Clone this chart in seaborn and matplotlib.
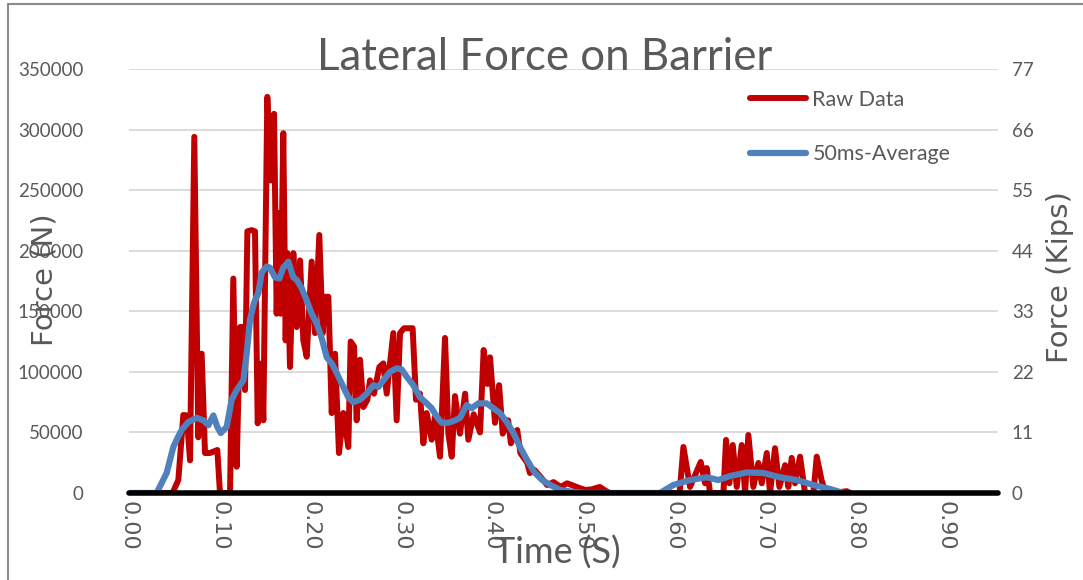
import matplotlib
matplotlib.use("Agg")
import matplotlib.pyplot as plt
import seaborn as sns
import pandas as pd
import numpy as np
from matplotlib.lines import Line2D

# raw lateral force (time in s, force in N)
raw_time = [0.000, 0.048, 0.0544, 0.0599, 0.0636, 0.0673, 0.0720, 0.0764, 0.0801, 0.0838,
            0.0893, 0.0974, 0.1003, 0.1114, 0.1150, 0.1187, 0.1224, 0.1261, 0.1279, 0.1305,
            0.1352, 0.1389, 0.1419, 0.1463, 0.1481, 0.1525, 0.1562, 0.1599, 0.1628, 0.1650,
            0.1672, 0.1701, 0.1727, 0.1746, 0.1775, 0.1812, 0.1849, 0.1886, 0.1922, 0.1959,
            0.2014, 0.2051, 0.2098, 0.2135, 0.2161, 0.2198, 0.2235, 0.2271, 0.2315, 0.2363,
            0.2418, 0.2444, 0.2481, 0.2510, 0.2547, 0.2584, 0.2628, 0.2657, 0.2701, 0.2760,
            0.2804, 0.2841, 0.2914, 0.2951, 0.2988, 0.3032, 0.3080, 0.3127, 0.3164, 0.3208,
            0.3245, 0.3282, 0.3337, 0.3374, 0.3429, 0.3484, 0.3521, 0.3558, 0.3594, 0.3649,
            0.3705, 0.3741, 0.3800, 0.3870, 0.3910, 0.3951, 0.3980, 0.4035, 0.4080, 0.4120,
            0.4180, 0.4210, 0.4280, 0.4315, 0.4390, 0.4420, 0.4470, 0.4540, 0.4610, 0.4680,
            0.4760, 0.4830, 0.4900, 0.4970, 0.5030, 0.5100, 0.5190, 0.5250, 0.5300, 0.6070,
            0.6112, 0.6185, 0.6303, 0.6351, 0.6369, 0.6406, 0.6553, 0.6582, 0.6619, 0.6656,
            0.6700, 0.6755, 0.6792, 0.6828, 0.6883, 0.6938, 0.6976, 0.7031, 0.7067, 0.7122,
            0.7170, 0.7233, 0.7269, 0.7306, 0.7343, 0.7398, 0.7453, 0.7545, 0.7582, 0.7637,
            0.7674, 0.7765, 0.7913, 0.7950]
raw_force = [0, 0, 10700, 64400, 64000, 27000, 294000, 46000, 115000, 33000,
             33000, 35500, 0, 0, 177000, 21700, 137000, 137000, 85000, 216000,
             217000, 216000, 57500, 107000, 60000, 327000, 258000, 313000, 148000, 231000,
             148000, 297000, 126000, 198000, 104000, 198000, 137000, 192000, 126000, 112500,
             191000, 132000, 213000, 132000, 162000, 162000, 66000, 115000, 33000, 66000,
             38000, 125000, 121000, 60000, 110000, 71000, 77000, 93000, 82000, 104000,
             107000, 82000, 132000, 60000, 132000, 136000, 136000, 136000, 77000, 82000,
             41000, 66000, 44000, 63000, 30000, 128000, 49000, 30000, 80000, 49000,
             82000, 44000, 65000, 50000, 118000, 90000, 112000, 58000, 89000, 49000,
             60000, 41000, 52000, 33000, 25000, 16500, 19000, 13000, 6600, 9000,
             5000, 8000, 6000, 4000, 2500, 3000, 5000, 2000, 0, 0,
             38000, 5000, 25600, 8000, 20600, 0, 0, 43800, 8000, 39600,
             5000, 39600, 0, 47900, 5000, 24800, 8000, 33000, 0, 37000,
             5000, 23000, 5000, 29000, 8000, 30000, 0, 0, 30000, 10000,
             2000, 0, 1500, 0]

# 50 ms moving average
avg_time = [0.000, 0.0305, 0.0415, 0.0489, 0.0526, 0.0580, 0.0654, 0.0746, 0.0820, 0.0875,
            0.0930, 0.0974, 0.1011, 0.1077, 0.1132, 0.1187, 0.1261, 0.1297, 0.1334, 0.1378,
            0.1426, 0.1463, 0.1518, 0.1554, 0.1610, 0.1658, 0.1701, 0.1757, 0.1812, 0.1849,
            0.1904, 0.1959, 0.2014, 0.2069, 0.2124, 0.2180, 0.2235, 0.2290, 0.2363, 0.2418,
            0.2473, 0.2547, 0.2620, 0.2694, 0.2749, 0.2804, 0.2878, 0.2951, 0.3006, 0.3061,
            0.3135, 0.3208, 0.3282, 0.3337, 0.3393, 0.3447, 0.3521, 0.3594, 0.3649, 0.3723,
            0.3778, 0.3851, 0.3943, 0.4017, 0.4090, 0.4164, 0.4238, 0.4311, 0.4390, 0.4470,
            0.4555, 0.4645, 0.4756, 0.4903, 0.5030, 0.5854, 0.6001, 0.6185, 0.6369, 0.6498,
            0.6626, 0.6810, 0.6994, 0.7177, 0.7361, 0.7545, 0.7729, 0.7876]
avg_force = [0, 0, 16500, 38000, 44000, 52000, 58600, 62000, 60000, 56000,
             64000, 54500, 49500, 54500, 77000, 85000, 93000, 115000, 143000, 157000,
             165000, 182000, 187000, 186000, 178000, 177000, 186000, 191000, 178000, 176000,
             169000, 159000, 148000, 140000, 128000, 112000, 107000, 99000, 87500, 79000,
             75000, 77000, 82000, 89000, 87500, 93000, 100000, 103000, 102000, 96000,
             89000, 79000, 74000, 70000, 63000, 58000, 58000, 60000, 62000, 72600,
             70000, 74000, 74000, 70000, 66000, 58600, 49500, 38000, 27000, 17000,
             10700, 6600, 2500, 800, 0, 0, 6600, 10700, 13000, 10700,
             14000, 17000, 16500, 13000, 10700, 6600, 3300, 0]

x_ticks = [0.0, 0.1, 0.2, 0.3, 0.4, 0.5, 0.6, 0.7, 0.8, 0.9]
n_ticks = [0, 50000, 100000, 150000, 200000, 250000, 300000, 350000]
kip_ticks = [0, 11, 22, 33, 44, 55, 66, 77]

sns.set_style("white")
narrow = ['Lato', 'DejaVu Sans']
wide = ['DejaVu Sans']
plt.rcParams['font.family'] = narrow
grey = '#595959'

fig = plt.figure(figsize=(10.83, 5.8), dpi=100)
ax = fig.add_axes([0.1191, 0.15, 0.8024, 0.731])

raw_df = pd.DataFrame({'Time': raw_time, 'Force': raw_force})
avg_df = pd.DataFrame({'Time': avg_time, 'Force': avg_force})
sns.lineplot(data=raw_df, x='Time', y='Force', ax=ax, color='#C00000', lw=4.3,
             zorder=3, legend=False)
sns.lineplot(data=avg_df, x='Time', y='Force', ax=ax, color='#4F81BD', lw=4.5,
             zorder=4, legend=False)
ax.axhline(0, color='black', lw=4, zorder=5, clip_on=False)

ax.set_xlim(0, 0.958)
ax.set_ylim(0, 350000)
ax.set_xticks(x_ticks)
ax.set_xticklabels([f"{v:.2f}" for v in x_ticks], rotation=-90, fontsize=16,
                   color=grey, family=wide)
ax.set_yticks(n_ticks)
ax.set_yticklabels([str(v) for v in n_ticks], fontsize=13.5, color=grey)
ax.tick_params(axis='both', length=0)
ax.tick_params(axis='y', pad=33)
ax.tick_params(axis='x', pad=6)
ax.yaxis.grid(True, color='#D9D9D9', lw=1.3)
ax.set_axisbelow(True)
ax.set_xlabel('')
ax.set_ylabel('')
sns.despine(ax=ax, left=True, bottom=True)

ax2 = ax.twinx()
ax2.set_ylim(0, 77)
ax2.set_yticks(kip_ticks)
ax2.set_yticklabels([str(v) for v in kip_ticks], fontsize=13.5, color=grey)
ax2.tick_params(length=0, pad=10)
for s in ax2.spines.values():
    s.set_visible(False)

fig.text(0.503, 1 - 57 / 580, 'Lateral Force on Barrier', ha='center', va='center',
         fontsize=31.5, color=grey)
fig.text(557 / 1083, 1 - 553 / 580, 'Time (S)', ha='center', va='center',
         fontsize=26, color=grey)
fig.text(45 / 1083, 1 - 280 / 580, 'Force (N)', ha='center', va='center',
         rotation=90, fontsize=21, color=grey, family=wide)
fig.text(1060 / 1083, 1 - 277 / 580, 'Force (Kips)', ha='center', va='center',
         rotation=90, fontsize=21, color=grey, family=wide)

handles = [Line2D([0], [0], color='#C00000', lw=4.3),
           Line2D([0], [0], color='#4F81BD', lw=4.5)]
leg = fig.legend(handles, ['Raw Data', '50ms-Average'], loc='upper left',
                 bbox_to_anchor=(750 / 1083, 1 - 90 / 580), bbox_transform=fig.transFigure,
                 frameon=False, fontsize=15.5, handlelength=2.6, handletextpad=0.3,
                 labelspacing=1.6, borderpad=0, borderaxespad=0)
for t in leg.get_texts():
    t.set_color(grey)

# outer chart frame (left and top edges visible)
fig.add_artist(Line2D([7.5 / 1083, 7.5 / 1083], [0, 1 - 3.5 / 580], color='#8c8c8c', lw=1.5,
                      transform=fig.transFigure))
fig.add_artist(Line2D([7.5 / 1083, 1], [1 - 3.5 / 580, 1 - 3.5 / 580], color='#8c8c8c', lw=1.5,
                      transform=fig.transFigure))

fig.savefig('out.png', dpi=100)
